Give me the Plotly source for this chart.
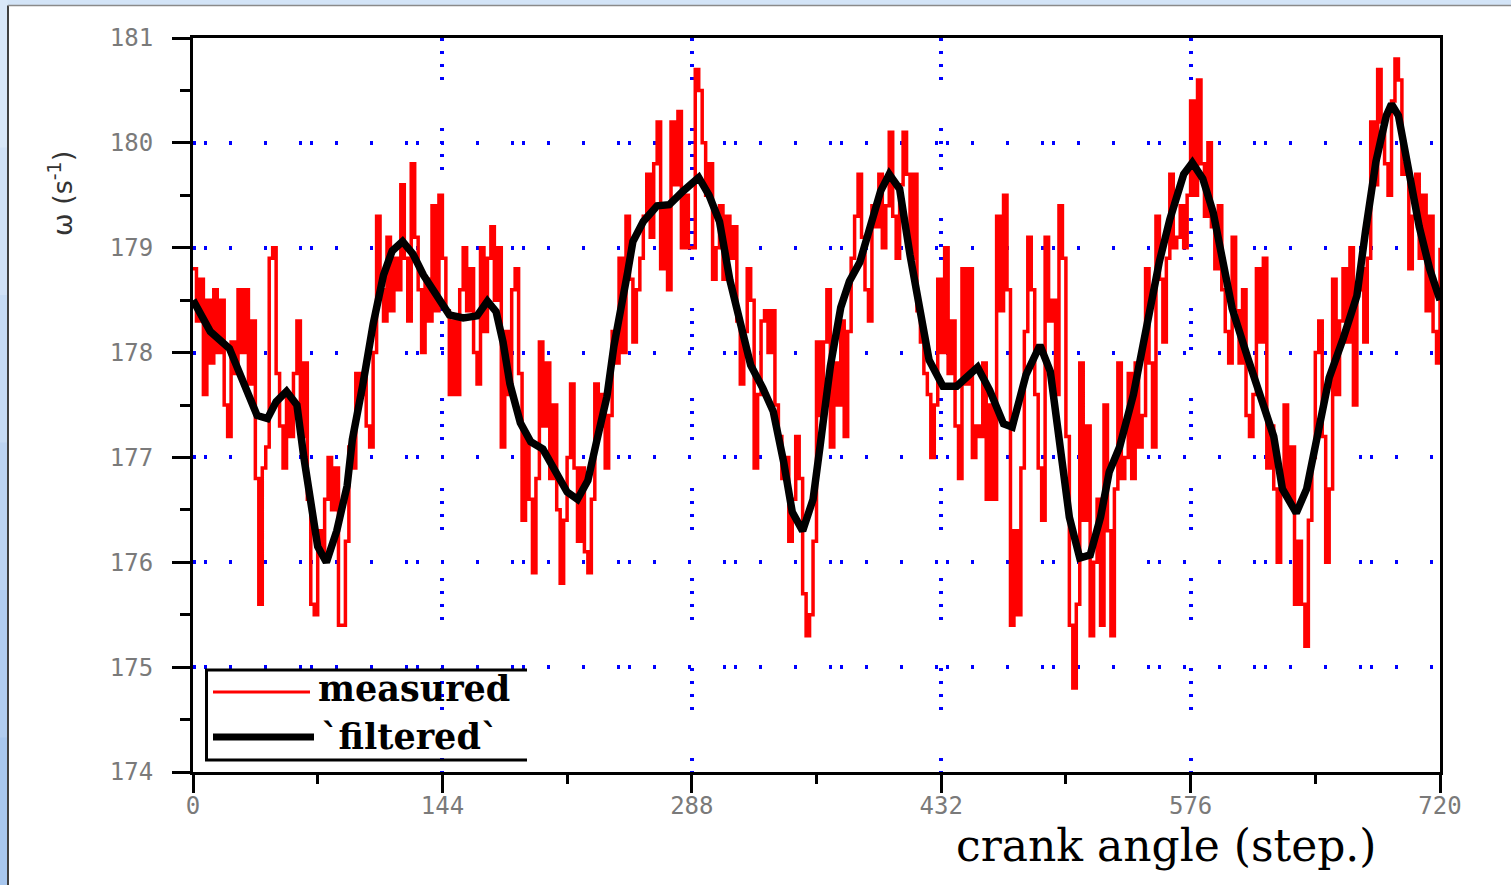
import plotly.graph_objects as go

# ---------------- data ----------------
x_tick_vals = [0, 144, 288, 432, 576, 720]
x_tick_text = ["0", "144", "288", "432", "576", "720"]
y_tick_vals = [174, 175, 176, 177, 178, 179, 180, 181]
y_tick_text = ["174", "175", "176", "177", "178", "179", "180", "181"]

measured_step = 2
measured_y = [
    178.8, 178.3, 178.7, 177.6, 178.5, 177.9, 178.6, 178.0, 178.5, 177.5,
    177.2, 178.1, 177.8, 178.6, 178.0, 178.6, 177.7, 178.3, 176.8, 175.6,
    176.9, 177.1, 178.9, 179.0, 177.8, 177.3, 176.9, 177.6, 177.2, 177.8,
    178.3, 177.2, 177.9, 176.6, 175.6, 175.5, 176.3, 176.1, 176.6, 177.0,
    176.5, 176.9, 175.4, 175.4, 176.2, 177.1, 176.9, 177.8, 177.6, 177.8,
    177.3, 177.1, 178.0, 179.3, 178.6, 178.3, 179.1, 178.4, 178.9, 178.6,
    179.6, 178.9, 178.3, 179.8, 179.1, 178.6, 178.0, 178.7, 178.3, 179.4,
    178.4, 179.5, 178.9, 178.4, 177.6, 178.3, 177.6, 178.6, 179.0, 178.4,
    178.8, 178.0, 177.7, 179.0, 178.2, 178.9, 179.2, 178.5, 179.0, 177.1,
    178.2, 177.6, 178.6, 178.8, 177.8, 176.4, 177.2, 176.6, 175.9, 176.8,
    178.1, 177.3, 177.9, 176.8, 177.5, 176.5, 175.8, 176.4, 177.0, 177.7,
    176.9, 176.2, 176.9, 176.1, 175.9, 176.6, 177.7, 177.3, 177.6, 176.9,
    177.4, 178.2, 177.9, 178.9, 178.0, 179.3, 178.7, 178.1, 178.6, 178.9,
    179.3, 179.7, 179.1, 179.8, 180.2, 178.8, 179.4, 178.6, 180.2, 179.6,
    180.3, 179.0, 179.5, 179.0, 179.0, 180.7, 180.5, 180.0, 179.5, 179.8,
    178.7, 179.0, 179.4, 178.7, 179.3, 178.9, 179.2, 178.3, 177.7, 178.2,
    178.8, 178.5, 176.9, 177.6, 178.3, 178.4, 178.0, 178.4, 177.5, 177.2,
    176.8, 177.0, 176.2, 176.6, 177.2, 176.8, 175.7, 175.3, 175.5, 176.2,
    178.1, 177.4, 178.1, 178.6, 177.1, 177.9, 177.5, 178.3, 177.2, 178.2,
    178.9, 179.3, 179.7, 179.1, 178.6, 178.3, 179.4, 179.2, 179.7, 179.0,
    179.4, 180.1, 179.3, 178.9, 179.6, 180.1, 179.7, 178.9, 179.7, 178.4,
    178.1, 177.8, 177.6, 177.0, 177.5, 178.7, 178.0, 179.0, 177.8, 178.3,
    177.3, 176.8, 178.8, 177.7, 178.8, 177.0, 177.3, 177.2, 177.9, 176.6,
    177.5, 176.6, 179.3, 178.4, 179.5, 178.6, 175.4, 176.3, 175.5, 176.9,
    178.2, 179.1, 178.6, 177.6, 176.9, 176.4, 179.1, 178.3, 178.5, 177.6,
    179.4, 178.9, 177.2, 175.4, 174.8, 175.6, 177.9, 176.4, 177.3, 175.3,
    176.0, 176.6, 175.4, 177.5, 176.3, 175.3, 176.7, 177.9, 176.8, 177.0,
    177.8, 176.8, 177.9, 177.1, 177.4, 178.8, 177.9, 177.1, 179.3, 178.7,
    178.1, 178.9, 179.7, 179.0, 179.1, 179.4, 179.0, 179.5, 180.4, 179.5,
    180.6, 179.8, 179.3, 180.0, 179.2, 178.8, 179.4, 178.6, 178.2, 177.9,
    179.1, 178.4, 177.9, 178.6, 177.4, 177.2, 177.6, 178.8, 178.1, 178.9,
    176.9, 177.3, 176.7, 176.0, 176.7, 177.5, 176.6, 177.1, 175.6, 176.2,
    175.6, 175.2, 176.4, 177.0, 178.0, 178.3, 177.2, 176.0, 176.7, 178.7,
    177.6, 178.3, 178.8, 178.1, 179.0, 177.5, 178.6, 178.8, 178.1, 178.9,
    180.2, 179.6, 180.7, 180.2, 179.8, 179.5, 180.4, 180.8, 180.6, 179.7,
    179.8, 178.8, 179.3, 179.7, 178.9, 179.5, 178.4, 179.3, 178.2, 177.9,
    179.0,
]
measured_x = [i * measured_step for i in range(len(measured_y))]

filtered_x = [
    0, 10, 21, 29, 37, 43, 48, 54, 60, 64, 68, 72, 77, 83, 89, 92, 98, 104,
    110, 115, 121, 127, 133, 141, 148, 156, 164, 170, 175, 179, 183, 189,
    195, 202, 210, 216, 222, 228, 233, 239, 243, 247, 251, 254, 260, 268,
    275, 283, 292, 298, 304, 310, 316, 322, 329, 335, 341, 346, 352, 358,
    362, 368, 374, 379, 385, 391, 397, 402, 408, 414, 420, 425, 433, 441,
    453, 460, 468, 473, 481, 489, 495, 500, 506, 512, 518, 524, 529, 535,
    543, 551, 558, 564, 572, 577, 583, 589, 595, 600, 609, 616, 624, 629,
    637, 643, 649, 656, 664, 672, 677, 683, 689, 692, 696, 702, 708, 714, 720,
]
filtered_y = [
    178.5, 178.2, 178.04, 177.72, 177.4, 177.37, 177.53, 177.63, 177.5, 177.0,
    176.52, 176.15, 176.0, 176.3, 176.73, 177.17, 177.69, 178.27, 178.74,
    178.97, 179.06, 178.94, 178.74, 178.55, 178.36, 178.33, 178.35, 178.49,
    178.39, 178.1, 177.7, 177.33, 177.15, 177.08, 176.85, 176.67, 176.6,
    176.78, 177.15, 177.58, 178.06, 178.47, 178.77, 179.06, 179.25, 179.4,
    179.41, 179.54, 179.67, 179.5, 179.25, 178.69, 178.25, 177.88, 177.66,
    177.44, 176.96, 176.48, 176.3, 176.6, 177.1, 177.87, 178.43, 178.68,
    178.86, 179.18, 179.54, 179.7, 179.56, 178.93, 178.36, 177.93, 177.68,
    177.68, 177.86, 177.64, 177.32, 177.29, 177.79, 178.07, 177.82, 177.14,
    176.43, 176.04, 176.07, 176.43, 176.86, 177.1, 177.6, 178.28, 178.87,
    179.27, 179.7, 179.81, 179.66, 179.34, 178.83, 178.42, 177.95, 177.61,
    177.2, 176.7, 176.47, 176.7, 177.2, 177.76, 178.13, 178.54, 179.16,
    179.82, 180.26, 180.37, 180.26, 179.71, 179.2, 178.8, 178.5,
]

legend_names = ["measured", "`filtered`"]
x_title = "crank angle (step.)"
y_title = "ω (s<sup>-1</sup>)"

# ---------------- layout geometry ----------------
W, H = 1511, 885
L, R, T, B = 193, 1440, 38, 772  # plot area in pixels


def px_x(p):
    return (p - L) / (R - L)


def px_y(p):
    return (B - p) / (B - T)


fig = go.Figure()
fig.add_trace(go.Scatter(
    x=measured_x, y=measured_y, mode="lines", name=legend_names[0],
    line=dict(color="#ff0000", width=3.5, shape="hv"), showlegend=False,
))
fig.add_trace(go.Scatter(
    x=filtered_x, y=filtered_y, mode="lines", name=legend_names[1],
    line=dict(color="#000000", width=7.5), showlegend=False,
))

tickfont = dict(family="DejaVu Sans Mono", size=24, color="#7a7a7a")

fig.update_xaxes(
    range=[0, 720], tickvals=x_tick_vals, ticktext=x_tick_text,
    ticks="outside", ticklen=18, tickwidth=3, tickcolor="black",
    showline=True, linewidth=3, linecolor="black", mirror=True,
    showgrid=True, gridcolor="#0000ff", gridwidth=3.5,
    griddash="3px,10px,3px,10px,3px,10px,3px,48px",
    zeroline=False, tickfont=tickfont, ticklabelstandoff=-8,
    minor=dict(tickvals=[72, 216, 360, 504, 648], ticklen=9, tickwidth=3,
               tickcolor="black", ticks="outside", showgrid=False),
)
fig.update_yaxes(
    range=[174, 181], tickvals=y_tick_vals, ticktext=y_tick_text,
    ticks="outside", ticklen=18, tickwidth=3, tickcolor="black",
    showline=True, linewidth=3, linecolor="black", mirror=True,
    showgrid=True, gridcolor="#0000ff", gridwidth=3.5,
    griddash="3px,8px,3px,22px,3px,32px,3px,32px",
    zeroline=False, tickfont=tickfont, ticklabelstandoff=14,
    minor=dict(dtick=0.5, tick0=174, ticklen=10, tickwidth=3,
               tickcolor="black", ticks="outside", showgrid=False),
)

shapes = []
# white page on a light-blue frame
shapes.append(dict(type="rect", xref="paper", yref="paper", layer="below",
                   x0=px_x(8), x1=px_x(W + 5), y0=px_y(H + 5), y1=px_y(6),
                   fillcolor="white", line=dict(width=0)))
# left strip gradient bands
band_cols = ["#d8e7f8", "#d0e1f6", "#c6dbf4", "#bcd4f2", "#b1cdf0", "#a8c7ee"]
n = len(band_cols)
for i, c in enumerate(band_cols):
    shapes.append(dict(type="rect", xref="paper", yref="paper", layer="below",
                       x0=px_x(-5), x1=px_x(7.5),
                       y0=px_y(H * (i + 1) / n + 1), y1=px_y(H * i / n),
                       fillcolor=c, line=dict(width=0)))
shapes.append(dict(type="line", xref="paper", yref="paper",
                   x0=px_x(8), x1=px_x(8), y0=px_y(H + 5), y1=px_y(5.5),
                   line=dict(color="#404040", width=2)))
shapes.append(dict(type="line", xref="paper", yref="paper",
                   x0=px_x(8), x1=px_x(W + 5), y0=px_y(5.5), y1=px_y(5.5),
                   line=dict(color="#8a8a8a", width=1.5)))

# legend box (top, bottom, left edges) and samples
shapes.append(dict(type="line", xref="paper", yref="paper",
                   x0=px_x(205), x1=px_x(527), y0=px_y(670), y1=px_y(670),
                   line=dict(color="black", width=3)))
shapes.append(dict(type="line", xref="paper", yref="paper",
                   x0=px_x(205), x1=px_x(527), y0=px_y(760), y1=px_y(760),
                   line=dict(color="black", width=3)))
shapes.append(dict(type="line", xref="paper", yref="paper",
                   x0=px_x(206.5), x1=px_x(206.5), y0=px_y(670), y1=px_y(760),
                   line=dict(color="black", width=3)))
shapes.append(dict(type="line", xref="paper", yref="paper",
                   x0=px_x(213), x1=px_x(310), y0=px_y(692), y1=px_y(692),
                   line=dict(color="#ff0000", width=3)))
shapes.append(dict(type="line", xref="paper", yref="paper",
                   x0=px_x(213), x1=px_x(314), y0=px_y(737), y1=px_y(737),
                   line=dict(color="black", width=7)))

legend_font = dict(family="DejaVu Serif", size=35, color="black", weight="bold")
annotations = [
    dict(text=legend_names[0], xref="paper", yref="paper",
         x=px_x(317), y=px_y(688), xanchor="left", yanchor="middle",
         showarrow=False, font=legend_font, borderpad=0),
    dict(text=legend_names[1], xref="paper", yref="paper",
         x=px_x(320), y=px_y(736), xanchor="left", yanchor="middle",
         showarrow=False, font=legend_font, borderpad=0),
    dict(text=x_title, xref="paper", yref="paper",
         x=px_x(1166), y=px_y(845), xanchor="center", yanchor="middle",
         showarrow=False, font=dict(family="DejaVu Serif", size=44, color="black")),
    dict(text=y_title, xref="paper", yref="paper", textangle=-90,
         x=px_x(60), y=px_y(194), xanchor="center", yanchor="middle",
         showarrow=False, font=dict(family="DejaVu Sans", size=27, color="#333333")),
]

fig.update_layout(
    width=W, height=H,
    margin=dict(l=L, r=W - R, t=T, b=H - B, pad=0),
    paper_bgcolor="#d3e4f7", plot_bgcolor="white",
    shapes=shapes, annotations=annotations, showlegend=False,
)

fig.write_html("out.html", config={"displayModeBar": False},
               post_script="document.body.style.margin='0';")
